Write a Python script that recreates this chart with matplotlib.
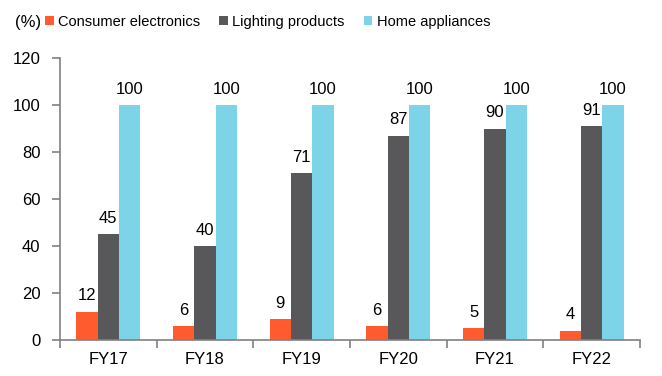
import numpy as np
import matplotlib.pyplot as plt
from matplotlib.ticker import FixedLocator, NullFormatter

plt.rcParams['font.family'] = ['Liberation Sans', 'DejaVu Sans']

years = ['FY17', 'FY18', 'FY19', 'FY20', 'FY21', 'FY22']
consumer = [12, 6, 9, 6, 5, 4]
lighting = [45, 40, 71, 87, 90, 91]
home = [100, 100, 100, 100, 100, 100]

series = [
    ('Consumer electronics', consumer, '#FF5B2E'),
    ('Lighting products', lighting, '#58585A'),
    ('Home appliances', home, '#7DD3E8'),
]

fig = plt.figure(figsize=(6.62, 3.76), dpi=100)
ax = fig.add_axes([60 / 662, 36 / 376, 580 / 662, 282 / 376])

x = np.arange(len(years))
w = 0.22
fs = 12
for i, (name, vals, col) in enumerate(series):
    pos = x + (i - 1) * w
    bars = ax.bar(pos, vals, width=w, color=col, label=name)
    for b, v in zip(bars, vals):
        ax.annotate(str(v), (b.get_x() + b.get_width() / 2, v), xytext=(0, 6),
                    textcoords='offset points', ha='center', va='bottom', fontsize=fs)

ax.set_xlim(-0.5, len(years) - 0.5)
ax.set_ylim(0, 120)
ax.set_yticks(range(0, 121, 20))
ax.set_xticks(x)
ax.set_xticklabels(years)
ax.xaxis.set_minor_locator(FixedLocator(np.arange(-0.5, len(years), 1)))
ax.xaxis.set_minor_formatter(NullFormatter())
ax.tick_params(axis='x', which='major', length=0, pad=9, labelsize=fs)
ax.tick_params(axis='x', which='minor', length=6, color='#808080', width=1.2)
ax.tick_params(axis='y', length=6, color='#808080', width=1.2, pad=8, labelsize=fs)

for s in ['top', 'right']:
    ax.spines[s].set_visible(False)
for s in ['left', 'bottom']:
    ax.spines[s].set_color('#808080')
    ax.spines[s].set_linewidth(1.2)

fig.text(15 / 662, 1 - 22 / 376, '(%)', fontsize=fs, va='center', ha='left')
fig.legend(loc='center left', bbox_to_anchor=(45 / 662, 1 - 22 / 376), ncol=3,
           frameon=False, fontsize=10.5, handlelength=0.6, handleheight=0.6,
           handletextpad=0.3, columnspacing=1.3, borderaxespad=0, borderpad=0)

fig.savefig('out.png', dpi=100)
